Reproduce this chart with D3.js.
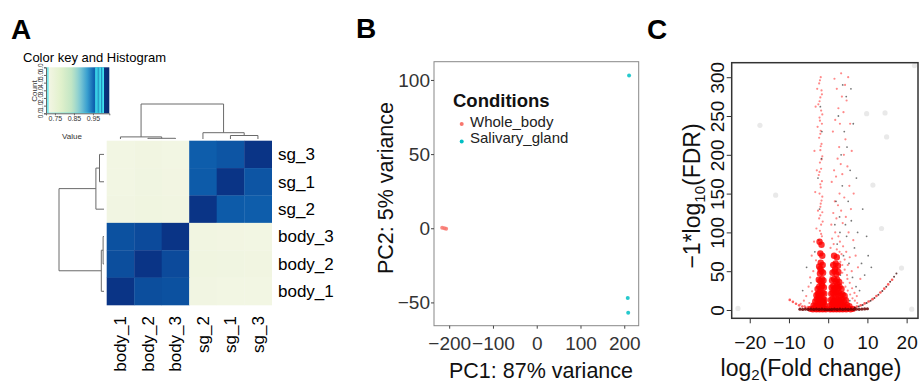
<!DOCTYPE html>
<html>
<head>
<meta charset="utf-8">
<script src="https://cdn.jsdelivr.net/npm/d3@7/dist/d3.min.js"></script>
<style>
  body { margin: 0; background: #fff; }
  svg { display: block; font-family: 'Liberation Sans', Arial, Helvetica, sans-serif; }
</style>
</head>
<body>
<svg id="fig" width="919" height="384"></svg>
<script>
// ---------- A: sample correlation heatmap ----------
const corrSamples = ['body_1', 'body_2', 'body_3', 'sg_1', 'sg_2', 'sg_3'];
const corrValues = [
  [1.0, 0.975, 0.972, 0.722, 0.724, 0.721],
  [0.975, 1.0, 0.978, 0.727, 0.729, 0.725],
  [0.972, 0.978, 1.0, 0.723, 0.725, 0.722],
  [0.722, 0.727, 0.723, 1.0, 0.962, 0.968],
  [0.724, 0.729, 0.725, 0.962, 1.0, 0.96],
  [0.721, 0.725, 0.722, 0.968, 0.96, 1.0],
];
const heatCols = ['body_1', 'body_2', 'body_3', 'sg_2', 'sg_1', 'sg_3'];
const heatRows = ['sg_3', 'sg_1', 'sg_2', 'body_3', 'body_2', 'body_1'];
const sampleTree = {
  height: 1,
  children: [
    { height: 0.06, children: ['body_1', { height: 0.02, children: ['body_2', 'body_3'] }] },
    { height: 0.18, children: ['sg_2', { height: 0.1, children: ['sg_1', 'sg_3'] }] },
  ],
};
const keyTicks = [0.75, 0.85, 0.95];
const keyCountTicks = [0, 1, 2, 3, 4, 5, 6];
const keyHistBreaks = [0.703, 0.713, 0.965, 0.972, 0.982, 0.989, 0.998, 1.005];
const keyHistCounts = [18, 0, 6, 0, 6, 0, 6];

// ---------- B: PCA ----------
const pcaConditions = ['Whole_body', 'Salivary_gland'];
const pc1Whole = [-216, -211, -207];
const pc2Whole = [0.4, 0, -0.3];
const pc1Gland = [211, 208, 209];
const pc2Gland = [103, -47, -57];
const pcaXTicks = [-200, -100, 0, 100, 200];
const pcaYTicks = [-50, 0, 50, 100];

// ---------- C: volcano (log2FC, -log10 FDR) ----------
const volcanoRedCore = [
  [-0.6,1],[-1.0,1.5],[-1.4,1],[-1.8,2],[-2.2,1],[-2.6,1.5],[-3.0,1],[-3.4,2],[-3.9,1],[-4.5,1.5],
  [-0.8,6],[-1.2,7],[-1.6,5.5],[-2.0,7.5],[-2.4,6],[-2.8,7],[-3.2,5],[-3.7,6],
  [-0.9,13],[-1.3,14],[-1.7,12],[-2.1,15],[-2.5,13],[-2.9,14],[-3.3,11],
  [-1.0,21],[-1.4,22],[-1.8,20],[-2.2,23],[-2.6,21],[-3.0,19],
  [-1.1,29],[-1.5,31],[-1.9,28],[-2.3,30],[-2.7,27],
  [-1.2,38],[-1.6,40],[-2.0,37],[-2.4,39],
  [-1.3,48],[-1.7,50],[-2.1,47],[-1.4,58],[-1.9,61],[-2.3,56],[-1.5,70],[-2.0,73],[-1.7,84],[-2.2,88],
  [0.5,1],[0.9,1.5],[1.3,1],[1.7,2],[2.1,1],[2.5,1.5],[2.9,1],[3.3,2],[3.7,1],[4.1,1.5],[4.6,1],[5.1,2],[5.7,1],[6.3,1.5],
  [0.6,6],[1.0,7],[1.4,5.5],[1.8,7.5],[2.2,6],[2.6,7],[3.0,5.5],[3.4,7],[3.8,6],[4.3,5],[4.8,6.5],[5.4,5],
  [0.7,13],[1.1,14],[1.5,12],[1.9,15],[2.3,13],[2.7,14],[3.1,12],[3.5,13.5],[4.0,11],[4.5,12.5],
  [0.8,21],[1.2,22],[1.6,20],[2.0,23],[2.4,21],[2.8,22],[3.2,19],[3.7,20],[4.2,18],
  [0.9,29],[1.3,31],[1.7,28],[2.1,30],[2.5,28],[2.9,30],[3.4,27],
  [1.0,38],[1.5,40],[1.9,37],[2.3,39],[2.8,36],
  [1.1,48],[1.6,50],[2.1,46],[2.6,49],[1.3,58],[1.9,60],[2.5,57],[1.5,70],[2.2,68],
  [-1.2,10],[-2.4,17],[-1.6,34],[-2.0,53],[1.2,9],[2.8,10],[4.0,3.5],[1.4,26],[2.4,33],[1.8,53],
];
const volcanoRedSparse = [
  [-1.6,95],[-2.1,102],[-1.8,110],[-2.3,118],[-1.5,126],[-2.0,133],[-1.7,141],[-2.2,150],[-1.9,158],[-1.6,166],
  [-2.4,174],[-1.8,182],[-2.1,190],[-1.5,198],[-2.0,206],[-1.7,214],[-2.3,222],[-1.9,231],[-1.6,240],[-2.2,248],
  [-1.8,257],[-2.5,265],[-2.0,274],[-1.7,283],[-2.3,292],[-1.9,300],[-2.8,285],[-3.2,262],[-2.7,236],[-3.5,205],
  [-2.9,180],[-3.3,152],[-2.6,128],[-3.0,105],[-3.6,88],[-4.2,70],[-3.1,64],[-3.8,50],[-4.6,42],[-5.0,30],
  [-4.1,24],[-5.6,18],[-6.2,12],[-4.8,9],[-7.0,8],[-6.0,5],[-5.2,4],
  [-1.8,98],[-1.4,114],[-2.0,122],[-1.9,137],[-1.5,146],[-2.0,162],[-2.2,178],[-1.7,194],[-1.9,211],[-2.0,227],
  [-2.1,244],[-1.5,252],[-2.2,269],[-1.6,278],[-2.1,296],
  [0.6,80],[1.0,92],[1.4,85],[1.8,100],[2.2,78],[2.6,95],[3.0,88],[3.4,72],[3.8,82],[4.2,65],[4.6,75],[5.0,58],
  [5.5,68],[6.0,50],[0.8,110],[1.3,125],[1.7,140],[2.1,118],[2.5,135],[2.9,150],[3.3,128],[3.7,112],[4.1,145],
  [4.5,120],[5.2,100],[5.8,130],[6.4,90],[7.0,70],[7.6,55],[8.2,40],[0.9,165],[1.5,180],[2.0,172],[2.4,195],
  [2.8,210],[3.2,188],[3.6,175],[4.0,200],[4.4,220],[4.9,185],[5.4,160],[6.0,205],[6.5,150],[1.2,230],[1.8,245],
  [2.6,260],[3.0,240],[3.5,275],[3.9,255],[4.3,290],[4.7,270],[5.1,300],[5.6,240],[2.2,285],[1.6,298],[3.3,305],
  [3.8,35],[4.4,30],[5.0,25],[5.6,20],[6.2,15],[6.8,12],[7.4,9],[4.9,40],[5.5,35],[6.1,28],[6.7,22],[7.3,18],
  [3.6,48],[4.2,52],[4.8,45],[3.1,62],[3.6,58],[2.9,75],[0.7,58],[0.6,42],[0.5,25],
];
const volcanoDark = [
  [-1.9,60],[-2.2,130],[-1.7,195],[-2.0,262],[-2.4,90],[-3.4,75],[-4.4,35],[-5.5,55],[-6.5,25],[-2.6,170],
  [-1.6,230],[1.5,60],[2.3,85],[3.1,45],[3.9,70],[4.7,95],[5.3,60],[6.2,42],[7.1,30],[8.0,25],[2.0,140],
  [2.9,120],[3.6,160],[4.4,110],[5.1,140],[5.9,115],[6.7,80],[7.5,100],[8.5,60],[9.3,45],[10.2,70],[3.3,200],
  [4.1,230],[4.8,210],[5.6,180],[2.6,250],[4.6,275],[5.8,285],[3.7,290],[6.4,240],[7.2,170],[8.8,130],[9.8,95],
  [11.0,55],[2.1,30],[4.0,22],[5.5,12],[1.2,15],[-1.3,10],[-2.9,20],[-3.9,5],[0.9,40],[1.7,110],[3.0,100],
];
const volcanoArcDark = [
  [6.8,3],[7.8,4.5],[8.8,6.5],[9.8,9],[10.8,12],[11.8,15.5],[12.8,19.5],[13.8,24.5],[14.8,30],[15.8,36.5],[16.8,43],[17.4,47],
];
const volcanoArcRed = [
  [7.3,4.5],[8.3,6],[9.3,8.5],[10.3,11],[11.3,14],[12.3,18],[13.3,22.5],[14.3,27.5],[15.3,33],[16.3,39],
  [-9.8,13],[-9.0,10.5],[-8.2,8],[-7.4,6],[-6.6,4.5],[-5.8,3],[-5.0,2],
];
const volcanoBase = [
  [-7.2,1],[-6.5,0.8],[-5.8,1],[-5.1,0.7],[-4.4,1],[-3.7,0.8],[-3.0,1],[-2.3,0.7],[-1.6,1],[-0.9,0.8],[-0.3,0.6],
  [0.3,0.6],[0.9,0.8],[1.6,1],[2.3,0.7],[3.0,1],[3.7,0.8],[4.4,1],[5.1,0.7],[5.8,1],[6.5,0.8],[7.2,1],[7.9,0.9],
  [8.6,1.2],[9.3,1.4],[10.0,1.6],
];
const volcanoGrey = [
  [-17.4,238],[-13.4,148],[14.5,254],[14.9,223],[13.6,105],[18.7,54],[-23,2],[21.3,1],[11.4,161],[9.8,253],[22,315],
];
const volcanoXTicks = [-20, -10, 0, 10, 20];
const volcanoYTicks = [0, 50, 100, 150, 200, 250, 300];

const svg = d3.select('#fig');

// panel letters
svg.append('text').attr('x', 11).attr('y', 39).text('A')
  .style('font-size', '28px').style('font-weight', 'bold');
svg.append('text').attr('x', 356).attr('y', 38).text('B')
  .style('font-size', '28px').style('font-weight', 'bold');
svg.append('text').attr('x', 647).attr('y', 39).text('C')
  .style('font-size', '28px').style('font-weight', 'bold');

// ================= A =================
const heatColor = d3
  .scaleLinear()
  .domain([0.703, 0.78, 0.84, 0.88, 0.92, 0.955, 1.0, 1.036])
  .range(['#f7f7ea', '#e2f1cc', '#c0e5c4', '#84ccd3', '#389fd0', '#0e62b0', '#0a3486', '#082a6e'])
  .clamp(true);

const cellX = d3.scaleBand().domain(heatCols).range([106.7, 271.7]);
const cellY = d3.scaleBand().domain(heatRows).range([140.7, 305]);
const idx = (s) => corrSamples.indexOf(s);

const cells = [];
heatRows.forEach((r) => heatCols.forEach((c) => cells.push({ r, c, v: corrValues[idx(r)][idx(c)] })));

svg
  .append('g')
  .selectAll('rect')
  .data(cells)
  .join('rect')
  .attr('x', (d) => cellX(d.c))
  .attr('y', (d) => cellY(d.r))
  .attr('width', cellX.bandwidth() + 0.3)
  .attr('height', cellY.bandwidth() + 0.3)
  .attr('fill', (d) => heatColor(d.v));

// row labels
svg
  .append('g')
  .selectAll('text')
  .data(heatRows)
  .join('text')
  .attr('x', 278)
  .attr('y', (d) => cellY(d) + cellY.bandwidth() / 2)
  .attr('dy', '0.35em')
  .text((d) => d)
  .style('font-size', '17px');

// column labels
svg
  .append('g')
  .selectAll('text')
  .data(heatCols)
  .join('text')
  .attr('transform', (d) => `translate(${cellX(d) + cellX.bandwidth() / 2},316) rotate(-90)`)
  .attr('dy', '0.35em')
  .attr('text-anchor', 'end')
  .text((d) => d)
  .style('font-size', '17px');

// dendrograms
const drawDendro = (pos, hgt, horizontal) => {
  const root = d3.hierarchy(sampleTree, (d) => (typeof d === 'string' ? null : d.children));
  root.eachAfter((n) => {
    n.p = n.children ? d3.mean(n.children, (c) => c.p) : pos(n.data) + pos.bandwidth() / 2;
    n.h = n.children ? n.data.height : 0;
  });
  const g = svg.append('g').attr('fill', 'none').attr('stroke', '#6a6a6a').attr('stroke-width', 1);
  root.each((n) => {
    if (!n.children) return;
    const [a, b] = n.children;
    const pt = (p, h) => (horizontal ? [hgt(h), p] : [p, hgt(h)]);
    const path = d3.path();
    path.moveTo(...pt(a.p, a.h));
    path.lineTo(...pt(a.p, n.h));
    path.lineTo(...pt(b.p, n.h));
    path.lineTo(...pt(b.p, b.h));
    g.append('path').attr('d', path.toString());
  });
};
drawDendro(cellX, d3.scaleLinear([0, 1], [139, 104]), false);
drawDendro(cellY, d3.scaleLinear([0, 1], [104, 59]), true);

// colour key
svg.append('text').attr('x', 23).attr('y', 61.5).text('Color key and Histogram').style('font-size', '13px');

const keyX = d3.scaleLinear([0.703, 1.036], [46, 109.3]);
const keyY = d3.scaleLinear([0, 6], [113.3, 67.3]);

const grad = svg
  .append('defs')
  .append('linearGradient')
  .attr('id', 'keygrad')
  .attr('x1', '0%')
  .attr('x2', '100%');
d3.range(0, 1.0001, 0.05).forEach((t) => {
  grad
    .append('stop')
    .attr('offset', `${t * 100}%`)
    .attr('stop-color', heatColor(keyX.invert(46 + t * 63.3)));
});
svg
  .select('defs')
  .append('clipPath')
  .attr('id', 'keyclip')
  .append('rect')
  .attr('x', 46)
  .attr('y', 67.3)
  .attr('width', 63.3)
  .attr('height', 46);

svg
  .append('rect')
  .attr('x', 46)
  .attr('y', 67.3)
  .attr('width', 63.3)
  .attr('height', 46)
  .attr('fill', 'url(#keygrad)');

const hist = d3.path();
hist.moveTo(keyX(keyHistBreaks[0]), keyY(0));
keyHistCounts.forEach((c, i) => {
  hist.lineTo(keyX(keyHistBreaks[i]), keyY(c));
  hist.lineTo(keyX(keyHistBreaks[i + 1]), keyY(c));
});
hist.lineTo(keyX(keyHistBreaks[keyHistBreaks.length - 1]), keyY(0));
svg
  .append('path')
  .attr('d', hist.toString())
  .attr('clip-path', 'url(#keyclip)')
  .attr('fill', 'none')
  .attr('stroke', '#40e0ef')
  .attr('stroke-width', 1.2);

svg
  .append('g')
  .attr('transform', 'translate(0,113.3)')
  .call(d3.axisBottom(keyX).tickValues(keyTicks).tickSize(2).tickPadding(1).tickFormat(d3.format('.2f')))
  .call((g) => g.select('.domain').attr('stroke', '#666'))
  .call((g) => g.selectAll('.tick line').attr('stroke', '#666'))
  .call((g) => g.selectAll('text').style('font-size', '7px').attr('fill', '#333'));

svg
  .append('g')
  .attr('transform', 'translate(46,0)')
  .call(d3.axisLeft(keyY).tickValues(keyCountTicks).tickSize(2))
  .call((g) => g.select('.domain').attr('stroke', '#666'))
  .call((g) => g.selectAll('.tick line').attr('stroke', '#666'))
  .call((g) =>
    g
      .selectAll('text')
      .attr('x', null)
      .attr('dy', null)
      .attr('text-anchor', 'middle')
      .attr('transform', 'translate(-3,0) rotate(-90)')
      .style('font-size', '6.5px')
      .attr('fill', '#333')
  );

svg.append('text').attr('transform', 'translate(37,91) rotate(-90)').attr('text-anchor', 'middle')
  .text('Count').style('font-size', '8px').attr('fill', '#333');
svg.append('text').attr('x', 72).attr('y', 139).attr('text-anchor', 'middle')
  .text('Value').style('font-size', '8px').attr('fill', '#333');

// ================= B =================
const xB = d3.scaleLinear([-234.7, 233], [434, 638.7]);
const yB = d3.scaleLinear([-65.7, 112.3], [325.7, 61.7]);
const pcaColor = d3.scaleOrdinal(pcaConditions, ['#F8766D', '#00BFC4']);

svg
  .append('rect')
  .attr('x', 434)
  .attr('y', 61.7)
  .attr('width', 204.7)
  .attr('height', 264)
  .attr('fill', 'none')
  .attr('stroke', '#888')
  .attr('stroke-width', 1);

svg
  .append('g')
  .attr('transform', 'translate(0,325.7)')
  .call(d3.axisBottom(xB).tickValues(pcaXTicks).tickSize(3).tickPadding(8).tickFormat(d3.format('d')))
  .call((g) => g.select('.domain').remove())
  .call((g) => g.selectAll('.tick line').attr('stroke', '#444'))
  .call((g) => g.selectAll('text').style('font-size', '19px').attr('fill', '#333'));

svg
  .append('g')
  .attr('transform', 'translate(434,0)')
  .call(d3.axisLeft(yB).tickValues(pcaYTicks).tickSize(3).tickPadding(1).tickFormat(d3.format('d')))
  .call((g) => g.select('.domain').remove())
  .call((g) => g.selectAll('.tick line').attr('stroke', '#444'))
  .call((g) => g.selectAll('text').style('font-size', '19px').attr('fill', '#333'));

svg.append('text').attr('x', 541).attr('y', 378).attr('text-anchor', 'middle')
  .text('PC1: 87% variance').style('font-size', '21.5px').attr('fill', '#111');
svg.append('text').attr('transform', 'translate(393,188) rotate(-90)').attr('text-anchor', 'middle')
  .text('PC2: 5% variance').style('font-size', '21.5px').attr('fill', '#111');

const pcaPoints = pc1Whole
  .map((x, i) => ({ x, y: pc2Whole[i], c: pcaConditions[0] }))
  .concat(pc1Gland.map((x, i) => ({ x, y: pc2Gland[i], c: pcaConditions[1] })));
svg
  .append('g')
  .selectAll('circle')
  .data(pcaPoints)
  .join('circle')
  .attr('cx', (d) => xB(d.x))
  .attr('cy', (d) => yB(d.y))
  .attr('r', 2)
  .attr('fill', (d) => pcaColor(d.c))
  .attr('opacity', 0.85);

// legend
svg.append('text').attr('x', 453).attr('y', 107).text('Conditions')
  .style('font-size', '18.5px').style('font-weight', 'bold').attr('fill', '#111');
svg
  .append('g')
  .selectAll('circle')
  .data(pcaConditions)
  .join('circle')
  .attr('cx', 461.7)
  .attr('cy', (d, i) => 124 + i * 17.5)
  .attr('r', 2)
  .attr('fill', (d) => pcaColor(d));
svg
  .append('g')
  .selectAll('text')
  .data(pcaConditions)
  .join('text')
  .attr('x', 470)
  .attr('y', (d, i) => 126.7 + i * 16.7)
  .text((d) => d)
  .style('font-size', '15px')
  .attr('fill', '#222');

// ================= C =================
const xC = d3.scaleLinear([-24.6, 22.9], [731.7, 918]);
const yC = d3.scaleLinear([-10.7, 318.7], [318.3, 62.7]);

svg.append('defs').append('clipPath').attr('id', 'volclip')
  .append('rect').attr('x', 731.7).attr('y', 62.7).attr('width', 186.3).attr('height', 255.6);

const vol = svg.append('g').attr('clip-path', 'url(#volclip)');
const dots = (data, r, fill, op) =>
  vol
    .append('g')
    .selectAll('circle')
    .data(data)
    .join('circle')
    .attr('cx', (d) => xC(d[0]))
    .attr('cy', (d) => yC(d[1]))
    .attr('r', r)
    .attr('fill', fill)
    .attr('opacity', op);

dots(volcanoGrey, 2.6, '#c8c8c8', 0.4);
dots(volcanoRedSparse, 1.1, '#ff2a2a', 0.55);
dots(volcanoDark, 0.9, '#1a1a1a', 0.6);
dots(volcanoRedCore, 3.2, '#ff0000', 0.8);
dots(volcanoArcRed, 1.3, '#ff1a1a', 0.7);
dots(volcanoArcDark, 1, '#3a0000', 0.75);
dots(volcanoBase, 1.6, '#6a0000', 0.85);

svg
  .append('rect')
  .attr('x', 731.7)
  .attr('y', 62.7)
  .attr('width', 186.3)
  .attr('height', 255.6)
  .attr('fill', 'none')
  .attr('stroke', '#333')
  .attr('stroke-width', 1.5);

svg
  .append('g')
  .attr('transform', 'translate(0,318.3)')
  .call(d3.axisBottom(xC).tickValues(volcanoXTicks).tickSize(5).tickPadding(12).tickFormat(d3.format('d')))
  .call((g) => g.select('.domain').remove())
  .call((g) => g.selectAll('.tick line').attr('stroke', '#333'))
  .call((g) => g.selectAll('text').style('font-size', '19px').attr('fill', '#111'));

svg
  .append('g')
  .attr('transform', 'translate(731.7,0)')
  .call(d3.axisLeft(yC).tickValues(volcanoYTicks).tickSize(5).tickFormat(d3.format('d')))
  .call((g) => g.select('.domain').remove())
  .call((g) => g.selectAll('.tick line').attr('stroke', '#333'))
  .call((g) =>
    g
      .selectAll('text')
      .attr('x', null)
      .attr('dy', null)
      .attr('text-anchor', 'middle')
      .attr('transform', 'translate(-8,0) rotate(-90)')
      .style('font-size', '19px')
      .attr('fill', '#111')
  );

const xl = svg.append('text').attr('x', 811).attr('y', 376).attr('text-anchor', 'middle')
  .style('font-size', '23px').attr('fill', '#111');
xl.append('tspan').text('log');
xl.append('tspan').attr('dy', 4).style('font-size', '15px').text('2');
xl.append('tspan').attr('dy', -4).text('(Fold change)');

const yl = svg.append('text').attr('transform', 'translate(700,196) rotate(-90)').attr('text-anchor', 'middle')
  .style('font-size', '23px').attr('fill', '#111');
yl.append('tspan').text('\u22121*log');
yl.append('tspan').attr('dy', 5).style('font-size', '15px').text('10');
yl.append('tspan').attr('dy', -5).text('(FDR)');
</script>
</body>
</html>
